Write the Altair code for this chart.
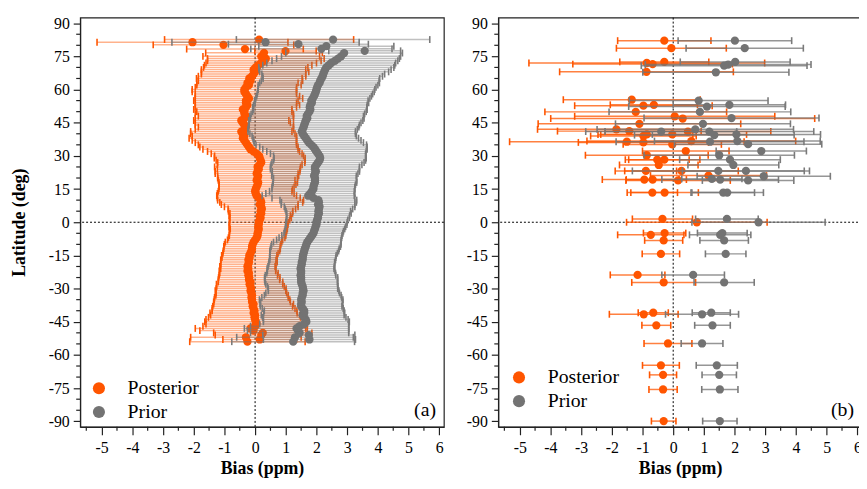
import altair as alt
import pandas as pd

# ---------------- data ----------------
# Panel (a): dense latitude bands (deg), -54 .. 75 by 1 deg
LAT_A = list(range(-54, 76))

POST_A_C = [
    -0.25, 0.15, -0.30, 0.20, 0.25, -0.05, -0.15, 0.00, 0.05, 0.02,
    0.00, -0.02, 0.00, -0.05, -0.02, -0.05, -0.08, -0.05, -0.10, -0.10,
    -0.12, -0.10, -0.12, -0.15, -0.13, -0.15, -0.18, -0.15, -0.20, -0.19,
    -0.22, -0.20, -0.25, -0.22, -0.25, -0.22, -0.20, -0.22, -0.18, -0.19,
    -0.15, -0.12, -0.10, -0.10, -0.08, -0.05, 0.00, 0.05, 0.08, 0.08,
    0.10, 0.12, 0.10, 0.12, 0.12, 0.15, 0.18, 0.15, 0.20, 0.18,
    0.22, 0.20, 0.15, 0.20, 0.18, 0.12, 0.05, 0.02, 0.00, 0.02,
    0.05, 0.08, 0.10, 0.05, 0.08, 0.10, 0.05, 0.08, 0.12, 0.08,
    0.15, 0.20, 0.18, 0.15, 0.13, 0.05, -0.05, -0.15, -0.20, -0.25,
    -0.30, -0.35, -0.40, -0.35, -0.40, -0.45, -0.35, -0.30, -0.35, -0.40,
    -0.45, -0.35, -0.30, -0.35, -0.35, -0.40, -0.30, -0.25, -0.30, -0.30,
    -0.20, -0.25, -0.30, -0.35, -0.35, -0.30, -0.20, -0.25, -0.15, -0.19,
    -0.10, -0.05, 0.00, -0.05, 0.02, 0.10, 0.20, 0.30, 0.35, 0.20,
]
POST_A_E = [
    1.88, 1.20, 1.80, 1.50, 1.60, 1.75, 1.80, 1.70, 1.65, 1.66,
    1.60, 1.50, 1.45, 1.42, 1.38, 1.35, 1.30, 1.30, 1.25, 1.23,
    1.20, 1.18, 1.15, 1.15, 1.14, 1.10, 1.08, 1.05, 1.00, 1.00,
    0.95, 0.95, 0.92, 0.90, 0.90, 0.90, 0.92, 0.90, 0.90, 0.90,
    0.90, 0.92, 0.92, 0.92, 0.92, 0.92, 0.90, 0.92, 0.92, 0.92,
    0.93, 0.93, 0.95, 0.95, 0.96, 0.98, 1.00, 1.00, 1.02, 1.05,
    1.10, 1.20, 1.25, 1.35, 1.40, 1.35, 1.30, 1.25, 1.20, 1.20,
    1.22, 1.25, 1.28, 1.25, 1.30, 1.32, 1.35, 1.38, 1.35, 1.40,
    1.38, 1.42, 1.45, 1.48, 1.45, 1.48, 1.50, 1.55, 1.60, 1.60,
    1.65, 1.70, 1.75, 1.70, 1.70, 1.65, 1.60, 1.55, 1.60, 1.55,
    1.55, 1.60, 1.55, 1.60, 1.55, 1.60, 1.65, 1.70, 1.65, 1.70,
    1.75, 1.70, 1.65, 1.70, 1.70, 1.65, 1.70, 1.65, 1.70, 1.72,
    1.75, 1.70, 1.75, 1.70, 1.70, 1.75, 1.80, 1.85, 1.90, 1.90,
]
PRIOR_A_C = [
    1.24, 1.77, 1.30, 1.75, 1.45, 1.40, 1.35, 1.45, 1.60, 1.67,
    1.65, 1.60, 1.55, 1.60, 1.60, 1.55, 1.50, 1.50, 1.52, 1.50,
    1.52, 1.55, 1.55, 1.58, 1.56, 1.55, 1.52, 1.50, 1.50, 1.50,
    1.48, 1.50, 1.50, 1.48, 1.50, 1.52, 1.52, 1.55, 1.55, 1.56,
    1.58, 1.60, 1.62, 1.65, 1.67, 1.70, 1.75, 1.80, 1.85, 1.90,
    1.92, 1.95, 1.97, 2.00, 2.00, 2.02, 2.05, 2.05, 2.08, 2.06,
    2.08, 2.10, 2.05, 2.08, 2.06, 1.90, 1.73, 1.80, 1.85, 1.90,
    1.90, 1.92, 1.95, 1.95, 1.95, 1.92, 1.95, 1.98, 1.95, 1.95,
    2.00, 2.05, 2.10, 2.12, 2.10, 2.05, 2.00, 1.95, 1.90, 1.83,
    1.75, 1.70, 1.65, 1.60, 1.55, 1.52, 1.55, 1.58, 1.60, 1.63,
    1.65, 1.70, 1.68, 1.72, 1.77, 1.80, 1.78, 1.80, 1.85, 1.83,
    1.88, 1.92, 1.95, 1.98, 2.00, 2.02, 2.05, 2.10, 2.12, 2.16,
    2.20, 2.22, 2.25, 2.28, 2.32, 2.40, 2.48, 2.60, 2.70, 2.80,
]
PRIOR_A_E = [
    2.00, 1.50, 1.90, 1.50, 1.60, 1.65, 1.70, 1.60, 1.45, 1.40,
    1.38, 1.36, 1.35, 1.32, 1.30, 1.32, 1.33, 1.34, 1.34, 1.36,
    1.30, 1.25, 1.20, 1.15, 1.13, 1.15, 1.17, 1.18, 1.19, 1.19,
    1.15, 1.12, 1.10, 1.09, 1.08, 1.08, 1.07, 1.07, 1.08, 1.08,
    1.10, 1.12, 1.12, 1.13, 1.13, 1.10, 1.05, 1.02, 0.98, 0.96,
    0.96, 0.97, 0.98, 0.99, 1.00, 1.00, 1.02, 1.03, 1.05, 1.05,
    1.10, 1.15, 1.20, 1.22, 1.25, 1.35, 1.50, 1.45, 1.38, 1.35,
    1.35, 1.35, 1.36, 1.36, 1.35, 1.38, 1.40, 1.42, 1.45, 1.45,
    1.48, 1.50, 1.50, 1.50, 1.50, 1.55, 1.62, 1.70, 1.75, 1.80,
    1.78, 1.75, 1.72, 1.70, 1.72, 1.75, 1.78, 1.80, 1.80, 1.82,
    1.86, 1.85, 1.85, 1.85, 1.85, 1.85, 1.86, 1.85, 1.85, 1.85,
    1.86, 1.87, 1.88, 1.90, 1.90, 1.92, 1.95, 1.95, 1.92, 1.90,
    1.95, 2.00, 2.10, 2.15, 2.20, 2.15, 2.10, 2.05, 2.00, 1.94,
]

# Panel (a): sparse high-latitude points
POST_A_TOP_LAT = [82.6, 81.4, 80.2, 78.3, 77.4, 76.6]
POST_A_TOP_C = [0.13, -2.04, -1.03, -0.33, 0.99, 0.29]
POST_A_TOP_E = [3.08, 3.11, 2.29, 1.90, 1.00, 1.90]
PRIOR_A_TOP_LAT = [82.6, 81.4, 80.5, 79.6, 78.4, 77.5, 76.5]
PRIOR_A_TOP_C = [2.54, 0.34, 1.41, 2.32, 2.16, 3.57, 2.90]
PRIOR_A_TOP_E = [3.15, 3.05, 2.28, 2.20, 2.30, 1.17, 1.90]

# Panel (b)
POST_B_LAT = [82.1, 78.7, 72.5, 71.5, 72.0, 68.0, 55.4, 52.7, 53.1, 49.9, 47.9, 46.9, 44.5,
              42.0, 41.2, 39.0, 39.7, 39.7, 41.0, 36.7, 36.4, 36.1, 35.2, 32.2, 30.3, 28.3,
              28.3, 25.9, 23.2, 23.2, 21.1, 19.3, 19.3, 18.9, 13.4, 13.4, 1.5, 0.0, -5.7,
              -4.9, -8.2, -14.3, -23.8, -27.2, -40.9, -41.6, -46.6, -54.8, -64.7, -69.0,
              -75.6, -89.9]
POST_B_C = [-0.29, -0.06, -0.29, -0.67, -0.86, -0.87, -1.35, -0.97, -0.63, -1.22, 0.05, 0.31,
            -1.10, -1.85, -1.43, -0.97, -0.86, -0.03, 0.48, 0.59, -1.51, -0.97, -0.03, 0.41,
            -0.86, -0.52, -0.29, -0.47, -0.89, 0.27, 1.15, -0.94, -0.67, 0.16, -0.68, -0.28,
            -0.35, 0.77, -0.73, -0.28, -0.31, -0.40, -1.16, -0.31, -0.65, -0.96, -0.55, -0.17,
            -0.40, -0.33, -0.33, -0.31]
POST_B_E = [1.52, 1.79, 1.45, 2.60, 3.84, 2.83, 2.23, 2.24, 1.42, 2.96, 3.26, 4.30, 3.30,
            2.57, 2.34, 1.72, 1.50, 2.42, 2.70, 3.40, 3.82, 2.12, 1.60, 1.41, 2.00, 1.04,
            1.16, 1.28, 1.00, 1.85, 1.89, 1.37, 0.86, 1.70, 0.82, 1.10, 0.98, 2.29, 1.08,
            0.69, 0.62, 0.61, 0.89, 1.04, 0.49, 1.12, 0.47, 0.78, 0.60, 0.44, 0.46, 0.40]
PRIOR_B_LAT = [82.1, 78.7, 72.5, 71.3, 70.8, 67.8, 55.0, 53.1, 52.3, 49.9, 47.1, 44.5, 41.0,
               42.0, 41.0, 39.4, 39.7, 36.4, 36.7, 35.3, 32.2, 30.3, 28.3, 25.9, 23.2, 23.2,
               20.8, 19.6, 19.3, 18.9, 13.4, 13.4, 1.5, 0.0, -4.9, -5.7, -8.2, -14.3, -23.8,
               -27.2, -40.9, -41.6, -46.6, -54.8, -64.7, -69.0, -75.6, -89.9]
PRIOR_B_C = [2.01, 2.33, 2.02, 1.79, 1.66, 1.39, 0.83, 1.83, 1.10, 0.87, 1.90, 0.97, -0.39,
             0.72, 1.18, 1.34, 2.06, 1.20, 2.09, 2.44, 2.87, 1.50, 1.85, 1.96, 1.47, 2.37,
             2.95, 1.26, 1.53, 2.44, 1.63, 1.76, 1.75, 2.78, 1.60, 1.53, 1.66, 1.71, 0.65,
             1.66, 1.24, 0.94, 1.28, 0.94, 1.42, 1.50, 1.52, 1.52]
PRIOR_B_E = [1.85, 1.91, 1.79, 2.70, 2.70, 2.38, 2.26, 1.83, 2.55, 2.96, 2.85, 2.85, 2.46,
             3.20, 3.40, 2.60, 2.74, 3.06, 2.70, 2.40, 1.47, 2.45, 1.64, 1.48, 2.80, 2.07,
             2.17, 0.98, 1.90, 1.49, 1.02, 1.18, 1.02, 2.17, 0.81, 1.00, 0.79, 0.66, 1.02,
             0.98, 0.62, 1.19, 0.58, 0.68, 0.67, 0.56, 0.59, 0.56]

SERIES = ["Posterior", "Prior"]
X_MAJOR = list(range(-5, 7))
X_MINOR = [v + 0.5 for v in range(-6, 6)]
Y_MAJOR = list(range(-90, 91, 15))
Y_MINOR = [v for v in range(-90, 91, 5) if v % 15 != 0]

# ---------------- style ----------------
ORANGE = "#FF5500"
GRAY = "#737373"
SERIF = "Times New Roman"
W, H = 368, 414
X_DOM = [-5.7, 6.15]
Y_DOM = [-92.5, 92.5]
AXC = "#222222"


def frame(lat, c, e, name):
    return pd.DataFrame({
        "lat": lat, "c": c,
        "lo": [a - b for a, b in zip(c, e)],
        "hi": [a + b for a, b in zip(c, e)],
        "s": name,
    })


xscale = alt.Scale(domain=X_DOM, nice=False, zero=False)
yscale = alt.Scale(domain=Y_DOM, nice=False, zero=False)

XAXIS = alt.Axis(
    values=X_MAJOR, title="Bias (ppm)", grid=False, tickSize=8, labelExpr="'' + datum.value",
    labelFont=SERIF, labelFontSize=16, labelPadding=5, labelFlush=False,
    labelOverlap=False, titleFont=SERIF, titleFontSize=18, titleFontWeight="bold",
    titlePadding=4,
)
YAXIS_A = alt.Axis(
    values=Y_MAJOR, grid=False, tickSize=7, labelExpr="'' + datum.value", labelFont=SERIF,
    labelFontSize=16, labelPadding=4, labelFlush=False, labelOverlap=False,
    title="Latitude (deg)", titleFont=SERIF, titleFontSize=18, titleFontWeight="bold",
    titlePadding=20,
)
YAXIS_B = alt.Axis(
    values=Y_MAJOR, grid=False, tickSize=7, labelExpr="'' + datum.value", labelFont=SERIF,
    labelFontSize=16, labelPadding=4, labelFlush=False, labelOverlap=False, title=None,
)

cscale = alt.Scale(domain=SERIES, range=[ORANGE, GRAY])


def panel(post_df, prior_df, tag, yaxis, bar_op, leg_x, leg_y):
    def X(field):
        return alt.X(field, type="quantitative", scale=xscale, axis=XAXIS)

    def Y(field):
        return alt.Y(field, type="quantitative", scale=yscale, axis=yaxis)

    zero = pd.DataFrame({"z": [0]})
    vline = alt.Chart(zero).mark_rule(color="black", strokeDash=[2, 2], strokeWidth=1).encode(
        x=X("z"))
    hline = alt.Chart(zero).mark_rule(color="black", strokeDash=[2, 2], strokeWidth=1).encode(
        y=Y("z"))
    xminor = alt.Chart(pd.DataFrame({"v": X_MINOR})).mark_rule(
        color=AXC, strokeWidth=1.2).encode(x=X("v"), y=alt.value(H), y2=alt.value(H + 4))
    yminor = alt.Chart(pd.DataFrame({"v": Y_MINOR})).mark_rule(
        color=AXC, strokeWidth=1.2).encode(y=Y("v"), x=alt.value(0), x2=alt.value(-4))
    legend = alt.Legend(
        title=None, orient="none", legendX=leg_x, legendY=leg_y, symbolType="circle",
        symbolSize=150, symbolStrokeWidth=0, symbolOpacity=1, labelFont=SERIF,
        labelFontSize=20, labelOffset=19, rowPadding=4, padding=0, labelColor="black",
    )
    layers = [vline, hline, xminor, yminor]
    for df, col, capcol in ((post_df, ORANGE, ORANGE), (prior_df, GRAY, "#7A7A7A")):
        base = alt.Chart(df)
        bars = base.mark_rule(color=col, opacity=bar_op, strokeWidth=1.5).encode(
            x=X("lo"), x2="hi", y=Y("lat"))
        caps = base.transform_fold(["lo", "hi"], as_=["k", "v"]).mark_tick(
            orient="vertical", color=capcol, size=7, thickness=1.6, opacity=1).encode(
            x=X("v:Q"), y=Y("lat"))
        dots = base.mark_circle(size=70, opacity=1).encode(
            x=X("c"), y=Y("lat"),
            color=alt.Color("s:N", scale=cscale, legend=legend))
        layers += [bars, caps, dots]
    label = alt.Chart(pd.DataFrame({"t": [tag]})).mark_text(
        font=SERIF, fontSize=20, align="right", baseline="alphabetic",
        color="black").encode(x=alt.value(W - 8), y=alt.value(H - 11), text="t:N")
    layers.append(label)
    return alt.layer(*layers).properties(width=W, height=H)


post_a = frame(LAT_A + POST_A_TOP_LAT, POST_A_C + POST_A_TOP_C, POST_A_E + POST_A_TOP_E, SERIES[0])
prior_a = frame(LAT_A + PRIOR_A_TOP_LAT, PRIOR_A_C + PRIOR_A_TOP_C, PRIOR_A_E + PRIOR_A_TOP_E, SERIES[1])
post_b = frame(POST_B_LAT, POST_B_C, POST_B_E, SERIES[0])
prior_b = frame(PRIOR_B_LAT, PRIOR_B_C, PRIOR_B_E, SERIES[1])

pa = panel(post_a, prior_a, "(a)", YAXIS_A, 0.45, 9, 365)
pb = panel(post_b, prior_b, "(b)", YAXIS_B, 0.75, 11, 354)

chart = alt.hconcat(pa, pb, spacing=20).resolve_legend(
    color="independent").properties(
    padding={"left": 2, "top": 3, "right": -5, "bottom": -2}
).configure_view(stroke=AXC, strokeWidth=1.2).configure_axis(
    domainColor=AXC, domainWidth=1.2, tickColor=AXC, tickWidth=1.2,
    labelColor="black", titleColor="black")

chart.save("out.html", embed_options={"renderer": "svg", "actions": False})
